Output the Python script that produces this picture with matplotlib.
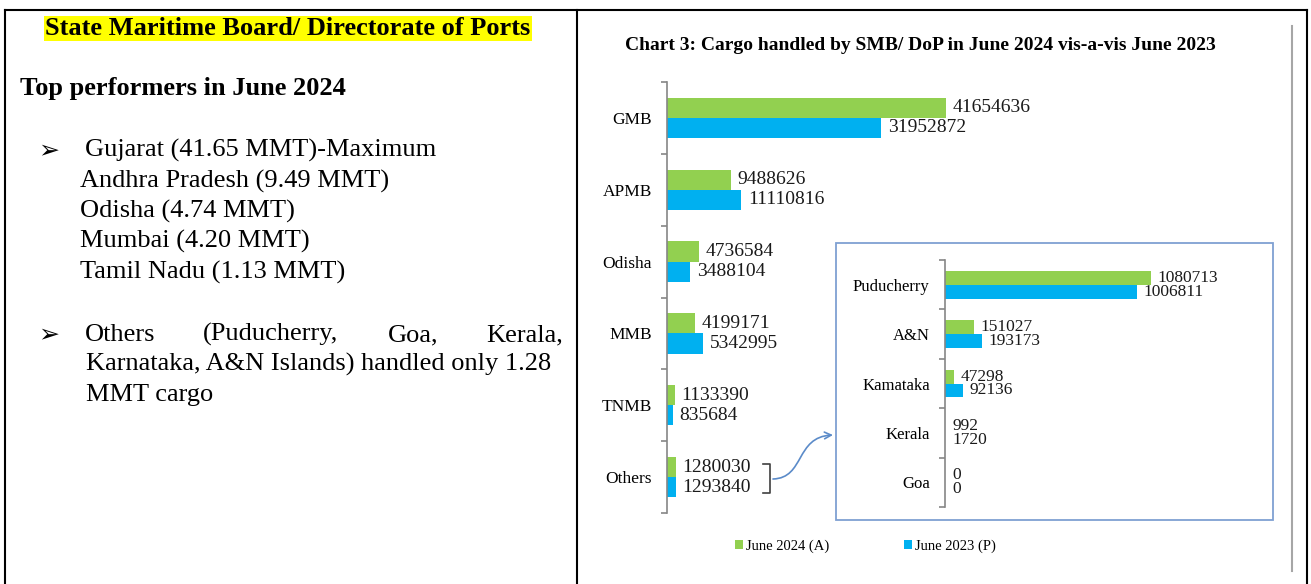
import numpy as np
import matplotlib.pyplot as plt
from matplotlib.patches import Patch, Rectangle, FancyArrowPatch
from matplotlib.path import Path
from matplotlib.lines import Line2D

# data
main_cats = ['GMB', 'APMB', 'Odisha', 'MMB', 'TNMB', 'Others']
main_2024 = [41654636, 9488626, 4736584, 4199171, 1133390, 1280030]
main_2023 = [31952872, 11110816, 3488104, 5342995, 835684, 1293840]

inset_cats = ['Puducherry', 'A&N', 'Kamataka', 'Kerala', 'Goa']
inset_2024 = [1080713, 151027, 47298, 992, 0]
inset_2023 = [1006811, 193173, 92136, 1720, 0]

series_names = ['June 2024 (A)', 'June 2023 (P)']
GREEN = '#92D050'
BLUE = '#00B0F0'

W, H = 1311, 584
SERIF = ['Liberation Serif', 'DejaVu Serif']
plt.rcParams['font.family'] = SERIF

fig = plt.figure(figsize=(W / 100, H / 100), dpi=100)


def fx(x):
    return x / W


def fy(y):
    return 1 - y / H


def hbar_pair(ax, cats, v1, v2, fs_cat, fs_val):
    idx = np.arange(len(cats))
    h = 0.28
    ax.barh(idx - h / 2, v1, height=h, color=GREEN)
    ax.barh(idx + h / 2, v2, height=h, color=BLUE)
    for i in idx:
        ax.annotate(f'{v1[i]}', (v1[i], i - h / 2), xytext=(5, 0), textcoords='offset points',
                    va='center', ha='left', fontsize=fs_val, color='#1a1a1a')
        ax.annotate(f'{v2[i]}', (v2[i], i + h / 2), xytext=(5, 0), textcoords='offset points',
                    va='center', ha='left', fontsize=fs_val, color='#1a1a1a')
    ax.set_ylim(len(cats) - 0.5, -0.5)
    ax.set_yticks(idx)
    ax.set_yticklabels(cats, fontsize=fs_cat)
    ax.set_yticks(np.arange(len(cats) + 1) - 0.5, minor=True)
    ax.tick_params(axis='y', which='major', length=0, pad=11)
    ax.tick_params(axis='y', which='minor', length=4, color='#868686', width=1.2)
    ax.set_xticks([])
    for s in ['top', 'right', 'bottom']:
        ax.spines[s].set_visible(False)
    ax.spines['left'].set_color('#868686')
    ax.spines['left'].set_linewidth(1.2)
    ax.patch.set_alpha(0)


# main chart
ax = fig.add_axes([fx(667), fy(513), (1280 - 667) / W, (513 - 82) / H])
hbar_pair(ax, main_cats, main_2024, main_2023, 12.5, 14)
ax.set_xlim(0, 613 / 6.70 * 1e6)

# inset box and inset chart
fig.patches.append(Rectangle((fx(836), fy(520)), (1273 - 836) / W, (520 - 243) / H,
                             transform=fig.transFigure, fill=True, facecolor='white',
                             edgecolor='#7FA0D2', lw=1.3, zorder=1))
ax2 = fig.add_axes([fx(945), fy(507), (1265 - 945) / W, (507 - 260) / H])
ax2.set_zorder(3)
hbar_pair(ax2, inset_cats, inset_2024, inset_2023, 12, 12.5)
ax2.set_xlim(0, 320 / 190.6 * 1e6)

# bracket and curved arrow
bx = [763, 770, 770, 763]
by = [464, 464, 493, 493]
fig.add_artist(Line2D([fx(v) for v in bx], [fy(v) for v in by], color='#404040', lw=1.2,
                      transform=fig.transFigure))
pts = [(773, 479), (805, 478), (795, 437), (833, 435)]
path = Path([(fx(x), fy(y)) for x, y in pts], [Path.MOVETO, Path.CURVE4, Path.CURVE4, Path.CURVE4])
fig.add_artist(FancyArrowPatch(path=path, arrowstyle='->', mutation_scale=12, color='#5B8BC9',
                               lw=1.2, transform=fig.transFigure))

# legend
handles = [Patch(facecolor=GREEN, edgecolor='none'), Patch(facecolor=BLUE, edgecolor='none')]
fig.legend(handles, series_names, loc='center left', bbox_to_anchor=(fx(722), fy(546)), ncol=2,
           frameon=False, fontsize=10.5, handlelength=0.55, handleheight=0.55, handletextpad=0.2,
           columnspacing=5.1)

# title
fig.text(fx(625), fy(45), 'Chart 3: Cargo handled by SMB/ DoP in June 2024 vis-a-vis June 2023',
         fontsize=14, fontweight='bold', va='center', ha='left')

# left text block
FS = 19
fig.text(fx(45), fy(35), 'State Maritime Board/ Directorate of Ports', fontsize=FS, fontweight='bold',
         family=SERIF, va='baseline', ha='left', bbox=dict(facecolor='#FFFF00', edgecolor='none', pad=1))
fig.text(fx(20), fy(95), 'Top performers in June 2024', fontsize=FS, fontweight='bold',
         family=SERIF, va='baseline', ha='left')

bullet_font = ['DejaVu Sans']
fig.text(fx(38), fy(157), '\u27a2', fontsize=18, family=bullet_font, va='baseline')
fig.text(fx(85), fy(157), 'Gujarat (41.65 MMT)-Maximum', fontsize=FS, family=SERIF, va='baseline')
lines = ['Andhra Pradesh (9.49 MMT)', 'Odisha (4.74 MMT)', 'Mumbai (4.20 MMT)', 'Tamil Nadu (1.13 MMT)']
for t, yb in zip(lines, [188, 218, 248, 279]):
    fig.text(fx(80), fy(yb), t, fontsize=FS, family=SERIF, va='baseline')

fig.text(fx(38), fy(341), '\u27a2', fontsize=18, family=bullet_font, va='baseline')
words = ['Others', '(Puducherry,', 'Goa,', 'Kerala,']
for w_, xw in zip(words, [85, 203, 388, 486]):
    fig.text(fx(xw), fy(341), w_, fontsize=FS, family=SERIF, va='baseline')
fig.text(fx(86), fy(371), 'Karnataka, A&N Islands) handled only 1.28', fontsize=FS, family=SERIF,
         va='baseline')
fig.text(fx(86), fy(401), 'MMT cargo', fontsize=FS, family=SERIF, va='baseline')

# table borders
lw = 1.5
fig.add_artist(Line2D([fx(5), fx(1307)], [fy(10), fy(10)], color='black', lw=lw, transform=fig.transFigure))
for xv in [5, 577, 1307]:
    fig.add_artist(Line2D([fx(xv), fx(xv)], [fy(10), 0], color='black', lw=lw, transform=fig.transFigure))
fig.add_artist(Line2D([fx(1292), fx(1292)], [fy(26), fy(571)], color='#A6A6A6', lw=1.5,
                      transform=fig.transFigure))

fig.savefig('out.png', dpi=100)
